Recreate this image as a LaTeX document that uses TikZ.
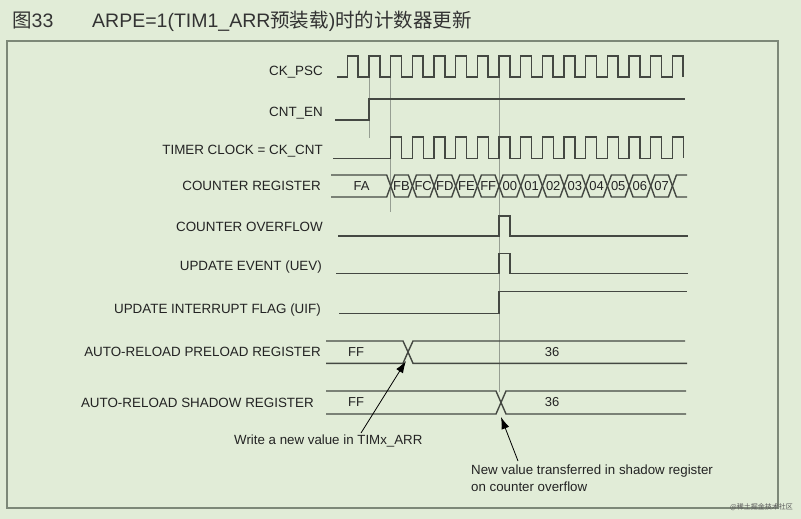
\documentclass[tikz,border=0pt]{standalone}
\usepackage{fontspec}
\setmainfont{Liberation Sans}
\newfontfamily\cjk{Noto Sans CJK SC}
\usetikzlibrary{arrows.meta}
\definecolor{bgpaper}{RGB}{225,236,215}
\definecolor{framegray}{RGB}{125,136,120}
\definecolor{wavegray}{RGB}{68,72,66}
\definecolor{guidegray}{RGB}{150,158,146}
\definecolor{inkgray}{RGB}{35,35,35}

\begin{document}
\begin{tikzpicture}[x=1pt, y=-1pt, >={Latex[length=12pt,width=8pt]},
	every node/.style={font=\fontsize{13.4}{15}\selectfont, text=inkgray, inner sep=0pt},
	siglabel/.style={anchor=base east},
	wave/.style={draw=wavegray, line width=1.4pt},
	guide/.style={draw=guidegray, line width=0.6pt},
	valtext/.style={font=\fontsize{13}{15}\selectfont},
	notetext/.style={anchor=base west, align=left, font=\fontsize{13.3}{17}\selectfont},
	annot/.style={->, draw=black, line width=0.8pt}]
	\fill[bgpaper] (0,0) rectangle (801,519);
	\useasboundingbox (0,0) rectangle (801,519);
	\draw[framegray, line width=2pt] (7,41) rectangle (778,508);
	% title
	\node[anchor=base west, font=\fontsize{19.5}{22}\selectfont, text=black!80] (fignum) at (12,28) {{\cjk 图}33};
	\node[anchor=base west, font=\fontsize{19.5}{22}\selectfont, text=black!80] (figtitle) at (92,28) {ARPE=1(TIM1\_ARR{\cjk 预装载})\cjk 时的计数器更新};
	% signal names
	\node[siglabel] (ckpsc) at (323,75.7) {CK\_PSC};
	\node[siglabel] (cnten) at (323,116.7) {CNT\_EN};
	\node[siglabel] (tmrclk) at (323,154.7) {TIMER CLOCK = CK\_CNT};
	\node[siglabel] (cntreg) at (321,190.7) {COUNTER REGISTER};
	\node[siglabel] (cntovf) at (323,231.7) {COUNTER OVERFLOW};
	\node[siglabel] (uev) at (322,270.7) {UPDATE EVENT (UEV)};
	\node[siglabel] (uif) at (321,313.7) {UPDATE INTERRUPT FLAG (UIF)};
	\node[siglabel] (arpre) at (321,356.7) {AUTO-RELOAD PRELOAD REGISTER};
	\node[siglabel] (arshd) at (314,407.7) {AUTO-RELOAD SHADOW REGISTER};
	% guide lines
	\draw[guide] (369,78) -- (369,138);
	\draw[guide] (390.7,78) -- (390.7,212);
	\draw[guide] (499,78) -- (499,392);
	% clocks
	\draw[wave] (337,77) \foreach \k in {0,...,15} {
		-- ({347.3+21.67*\k},77) -- ++(0,-21) -- ++(10.83,0) -- ++(0,21)};
	\draw[wave] (335,120) -- (369,120) -- (369,99) -- (685,99);
	\draw[wave] (333,158.3) \foreach \k in {0,...,13} {
		-- ({390.7+21.67*\k},158.3) -- ++(0,-21.5) -- ++(10.83,0) -- ++(0,21.5)};
	% counter register
	\draw[wave] (331,175) -- (386.7,175) -- (390.7,186) -- (386.7,197) -- (331,197);
	\node[valtext] (cntFA) at (361.5,186) {FA};
	\foreach \lbl [count=\i from 0] in {FB,FC,FD,FE,FF,00,01,02,03,04,05,06,07} {
		\pgfmathsetmacro\xa{390.7+21.67*\i}
		\pgfmathsetmacro\xb{\xa+21.67}
		\draw[wave] (\xa,186) -- (\xa+4,175) -- (\xb-4,175) -- (\xb,186) -- (\xb-4,197) -- (\xa+4,197) -- cycle;
		\node[valtext] (cnt\lbl) at ({(\xa+\xb)/2},186) {\lbl};
	}
	\draw[wave] (687,175) -- (676.4,175) -- (672.4,186) -- (676.4,197) -- (687,197);
	% overflow, update event, flag
	\draw[wave] (338,236) -- (499,236) -- (499,216) -- (510,216) -- (510,236) -- (688,236);
	\draw[wave] (336,273.3) -- (499,273.3) -- (499,253.3) -- (510,253.3) -- (510,273.3) -- (688,273.3);
	\draw[wave] (339,313.3) -- (499,313.3) -- (499,291.7) -- (687,291.7);
	% auto-reload registers
	\draw[wave] (326,341) -- (403,341) -- (408,352) -- (403,363.3) -- (326,363.3);
	\draw[wave] (685,341) -- (413,341) -- (408,352) -- (413,363.3) -- (687,363.3);
	\node[valtext] (preFF) at (356,352.5) {FF};
	\node[valtext] (pre36) at (552,352.5) {36};
	\draw[wave] (326,391) -- (496,391) -- (501,402.5) -- (496,414) -- (326,414);
	\draw[wave] (686,391) -- (506,391) -- (501,402.5) -- (506,414) -- (686,414);
	\node[valtext] (shdFF) at (356,402.5) {FF};
	\node[valtext] (shd36) at (552,402.5) {36};
	% notes
	\node[notetext] (wrnote) at (234,444.5) {Write a new value in TIMx\_ARR};
	\node[notetext] (ovfnote) at (471,491.7) {New value transferred in shadow register\\on counter overflow};
	\coordinate (wrtail) at (361,433);
	\coordinate (wrtip) at (406,361);
	\coordinate (ovftail) at (518,461);
	\coordinate (ovftip) at (501,417);
	\draw[annot] (wrtail) -- (wrtip);
	\draw[annot] (ovftail) -- (ovftip);
	\node[anchor=base east, font=\fontsize{7}{8}\selectfont\cjk, text=black!65] (wmark) at (793,509) {@稀土掘金技术社区};
\end{tikzpicture}
\end{document}
